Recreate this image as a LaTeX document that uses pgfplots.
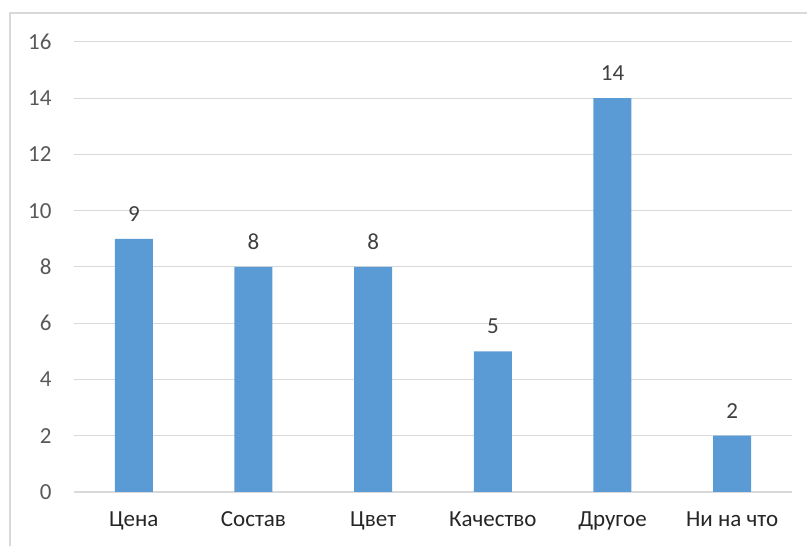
\documentclass[border=0pt]{standalone}
\usepackage{pgfplots}
\pgfplotsset{compat=1.18}
\usepackage{fontspec}
\setmainfont{Carlito}
\definecolor{barblue}{HTML}{5B9BD5}
\definecolor{gridgray}{HTML}{D9D9D9}
\definecolor{ticktext}{HTML}{595959}
\definecolor{cattext}{HTML}{262626}
\definecolor{labeltext}{HTML}{404040}
\begin{document}
\begin{tikzpicture}[x=1pt,y=1pt]
\useasboundingbox (0,0) rectangle (807,546);
\draw[gridgray,line width=1.2pt] (10,0) -- (10,533) -- (807,533);
\begin{axis}[
  at={(74pt,54pt)}, anchor=south west,
  scale only axis, width=718pt, height=450pt,
  xmin=-0.5, xmax=5.5, ymin=0, ymax=16,
  ytick={0,2,...,16},
  xtick=data,
  xticklabels={Цена,Состав,Цвет,Качество,Другое,Ни на что},
  axis x line*=bottom, axis y line*=left,
  x axis line style={gridgray,line width=1.2pt,-},
  y axis line style={draw=none},
  ymajorgrids, grid style={gridgray,line width=1pt},
  major tick length=0pt,
  tick label style={font=\fontsize{23}{27}\selectfont},
  yticklabel style={xshift=-19pt, text=ticktext},
  xticklabel style={yshift=-16pt, text=cattext},
  /pgf/number format/assume math mode=true,
  ybar, bar width=38pt,
  nodes near coords,
  nodes near coords style={font=\fontsize{23}{27}\selectfont, text=labeltext, yshift=14pt},
  clip=false,
]
\addplot[fill=barblue, draw=none] coordinates {(0,9) (1,8) (2,8) (3,5) (4,14) (5,2)};
\end{axis}
\end{tikzpicture}
\end{document}
